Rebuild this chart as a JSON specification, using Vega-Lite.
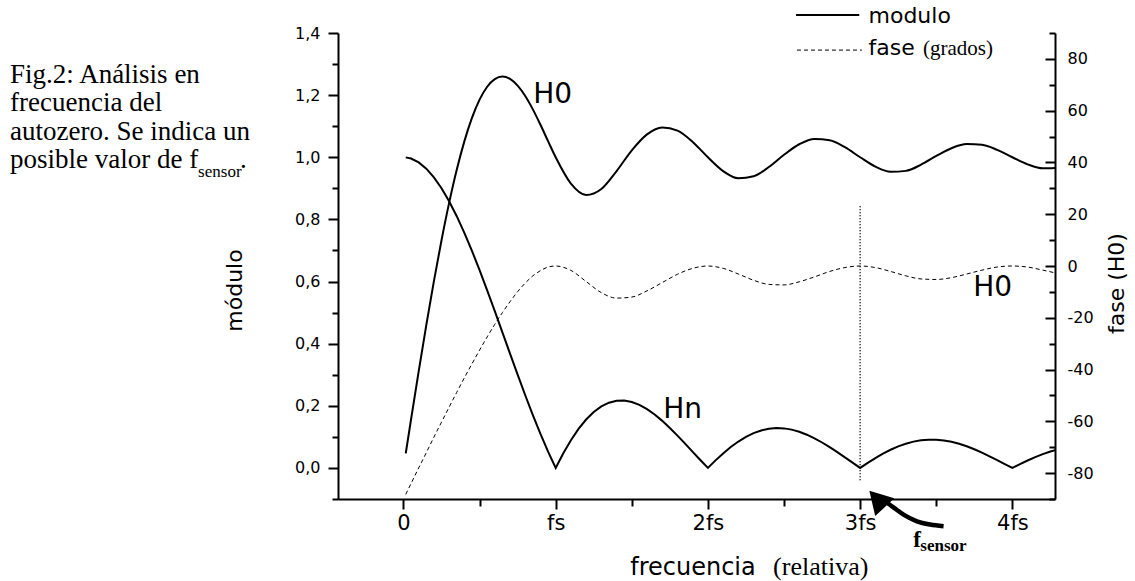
{
  "$schema": "https://vega.github.io/schema/vega-lite/v6.json",
  "width": 717,
  "height": 466,
  "autosize": {"type": "none"},
  "padding": {"left": 338, "top": 33, "right": 80, "bottom": 82},
  "background": "white",
  "config": {
    "view": {"stroke": null},
    "locale": {"number": {"decimal": ",", "thousands": ".", "grouping": [3], "currency": ["", ""], "minus": "-"}},
    "axis": {"grid": false, "domainColor": "black", "tickColor": "black", "labelColor": "black", "titleColor": "black", "domainWidth": 2, "tickWidth": 2, "labelFlush": false, "labelOverlap": false}
  },
  "datasets": {
    "hn": [
      {"f":0.015,"v":0.9996},{"f":0.05,"v":0.9959},{"f":0.1,"v":0.9836},{"f":0.15,"v":0.9634},{"f":0.2,"v":0.9355},{"f":0.25,"v":0.9003},{"f":0.3,"v":0.8584},{"f":0.35,"v":0.8103},{"f":0.4,"v":0.7568},{"f":0.45,"v":0.6987},{"f":0.5,"v":0.6366},{"f":0.55,"v":0.5716},{"f":0.6,"v":0.5046},{"f":0.65,"v":0.4363},{"f":0.7,"v":0.3679},{"f":0.75,"v":0.3001},{"f":0.8,"v":0.2339},{"f":0.85,"v":0.17},{"f":0.9,"v":0.1093},{"f":0.95,"v":0.0524},{"f":1.0,"v":0},
      {"f":1.05,"v":0.0474},{"f":1.1,"v":0.0894},{"f":1.15,"v":0.1257},{"f":1.2,"v":0.1559},{"f":1.25,"v":0.1801},{"f":1.3,"v":0.1981},{"f":1.35,"v":0.2101},{"f":1.4,"v":0.2162},{"f":1.45,"v":0.2168},{"f":1.5,"v":0.2122},{"f":1.55,"v":0.2028},{"f":1.6,"v":0.1892},{"f":1.65,"v":0.1719},{"f":1.7,"v":0.1515},{"f":1.75,"v":0.1286},{"f":1.8,"v":0.1039},{"f":1.85,"v":0.0781},{"f":1.9,"v":0.0518},{"f":1.95,"v":0.0255},{"f":2.0,"v":0},
      {"f":2.05,"v":0.0243},{"f":2.1,"v":0.0468},{"f":2.15,"v":0.0672},{"f":2.2,"v":0.085},{"f":2.25,"v":0.1},{"f":2.3,"v":0.112},{"f":2.35,"v":0.1207},{"f":2.4,"v":0.1261},{"f":2.45,"v":0.1283},{"f":2.5,"v":0.1273},{"f":2.55,"v":0.1233},{"f":2.6,"v":0.1164},{"f":2.65,"v":0.107},{"f":2.7,"v":0.0954},{"f":2.75,"v":0.0819},{"f":2.8,"v":0.0668},{"f":2.85,"v":0.0507},{"f":2.9,"v":0.0339},{"f":2.95,"v":0.0169},{"f":3.0,"v":0},
      {"f":3.05,"v":0.0163},{"f":3.1,"v":0.0317},{"f":3.15,"v":0.0459},{"f":3.2,"v":0.0585},{"f":3.25,"v":0.0693},{"f":3.3,"v":0.078},{"f":3.35,"v":0.0847},{"f":3.4,"v":0.089},{"f":3.45,"v":0.0911},{"f":3.5,"v":0.0909},{"f":3.55,"v":0.0886},{"f":3.6,"v":0.0841},{"f":3.65,"v":0.0777},{"f":3.7,"v":0.0696},{"f":3.75,"v":0.06},{"f":3.8,"v":0.0492},{"f":3.85,"v":0.0375},{"f":3.9,"v":0.0252},{"f":3.95,"v":0.0126},{"f":4.0,"v":0},
      {"f":4.05,"v":0.0123},{"f":4.1,"v":0.024},{"f":4.15,"v":0.0348},{"f":4.2,"v":0.0446},{"f":4.25,"v":0.053},{"f":4.3,"v":0.0599}
    ],
    "h0": [
      {"f":0.015,"m":0.0471,"p":-88.2},{"f":0.05,"m":0.1567,"p":-84.0},{"f":0.1,"m":0.3107,"p":-78.0},{"f":0.15,"m":0.4597,"p":-72.1},{"f":0.2,"m":0.6012,"p":-66.1},{"f":0.25,"m":0.733,"p":-60.3},{"f":0.3,"m":0.8531,"p":-54.5},{"f":0.35,"m":0.9596,"p":-48.8},{"f":0.4,"m":1.0512,"p":-43.2},{"f":0.45,"m":1.1267,"p":-37.8},{"f":0.5,"m":1.1855,"p":-32.5},{"f":0.55,"m":1.227,"p":-27.4},{"f":0.6,"m":1.2516,"p":-22.5},{"f":0.65,"m":1.2596,"p":-18.0},{"f":0.7,"m":1.2521,"p":-13.8},{"f":0.75,"m":1.2306,"p":-9.9},{"f":0.8,"m":1.1971,"p":-6.6},{"f":0.85,"m":1.1541,"p":-3.8},{"f":0.9,"m":1.1045,"p":-1.8},{"f":0.95,"m":1.0518,"p":-0.4},{"f":1.0,"m":1.0,"p":0},
      {"f":1.1,"m":0.9154,"p":-1.7},{"f":1.2,"m":0.8787,"p":-6.0},{"f":1.3,"m":0.898,"p":-10.3},{"f":1.4,"m":0.9556,"p":-12.4},{"f":1.5,"m":1.0223,"p":-12.0},{"f":1.6,"m":1.0737,"p":-9.6},{"f":1.7,"m":1.0959,"p":-6.4},{"f":1.8,"m":1.0858,"p":-3.2},{"f":1.9,"m":1.0494,"p":-0.9},{"f":2.0,"m":1.0,"p":0},
      {"f":2.1,"m":0.9556,"p":-0.9},{"f":2.2,"m":0.9325,"p":-3.1},{"f":2.3,"m":0.9386,"p":-5.5},{"f":2.4,"m":0.9685,"p":-7.1},{"f":2.5,"m":1.0081,"p":-7.3},{"f":2.6,"m":1.0419,"p":-6.1},{"f":2.7,"m":1.0589,"p":-4.2},{"f":2.8,"m":1.0548,"p":-2.1},{"f":2.9,"m":1.0323,"p":-0.6},{"f":3.0,"m":1.0,"p":0},
      {"f":3.1,"m":0.9699,"p":-0.6},{"f":3.2,"m":0.9533,"p":-2.1},{"f":3.3,"m":0.9562,"p":-3.8},{"f":3.4,"m":0.9762,"p":-5.0},{"f":3.5,"m":1.0041,"p":-5.2},{"f":3.6,"m":1.0291,"p":-4.5},{"f":3.7,"m":1.0424,"p":-3.1},{"f":3.8,"m":1.0402,"p":-1.6},{"f":3.9,"m":1.024,"p":-0.4},{"f":4.0,"m":1.0,"p":0},
      {"f":4.1,"m":0.9772,"p":-0.4},{"f":4.2,"m":0.9643,"p":-1.6},{"f":4.3,"m":0.966,"p":-2.9}
    ],
    "txt": [
      {"f":0.852,"v":1.1756,"t":"H0","k":"lab"},
      {"f":1.706,"v":0.1617,"t":"Hn","k":"lab"},
      {"f":3.743,"v":0.554,"t":"H0","k":"lab"},
      {"f":3.055,"v":1.4328,"t":"modulo","k":"leg"},
      {"f":3.055,"v":1.329,"t":"fase","k":"leg"},
      {"f":3.4126,"v":1.329,"t":"(grados)","k":"grados"},
      {"f":1.4895,"v":-0.3431,"t":"frecuencia","k":"xt"},
      {"f":2.428,"v":-0.3431,"t":"(relativa)","k":"rel"},
      {"f":-2.584,"v":1.2399,"t":"Fig.2: Análisis en","k":"cap"},
      {"f":-2.584,"v":1.1489,"t":"frecuencia del","k":"cap"},
      {"f":-2.584,"v":1.0556,"t":"autozero. Se indica un","k":"cap"},
      {"f":-2.584,"v":0.9646,"t":"posible valor de f","k":"cap"},
      {"f":-1.073,"v":0.9646,"t":".","k":"cap"},
      {"f":-1.349,"v":0.9376,"t":"sensor","k":"capsub"},
      {"f":3.349,"v":-0.256,"t":"f","k":"fs"},
      {"f":3.395,"v":-0.2663,"t":"sensor","k":"fssub"}
    ],
    "legm": [{"f":2.579,"f2":2.9941,"v":1.4576}],
    "legp": [{"f":2.585,"f2":3.0118,"p":83.4}],
    "arr": [
      {"f":3.145,"v":-0.1019},{"f":3.209,"v":-0.1235},{"f":3.285,"v":-0.1502},{"f":3.373,"v":-0.1717},{"f":3.46,"v":-0.1823},{"f":3.548,"v":-0.1878}
    ],
    "head": [{"f":3.111,"v":-0.1}],
    "vline": [{"f":3,"v":-0.04,"v2":0.845}]
  },
  "layer": [
    {
      "data": {"name": "hn"},
      "mark": {"type": "line", "color": "black", "strokeWidth": 2, "clip": true},
      "encoding": {
        "x": {"field": "f", "type": "quantitative", "scale": {"domain": [-0.43, 4.28], "nice": false, "zero": false},
          "axis": {
            "orient": "bottom",
            "values": [0, 1, 2, 3, 4],
            "labelExpr": "datum.value == 0 ? '0' : (datum.value == 1 ? 'fs' : datum.value + 'fs')",
            "tickSize": 10,
            "labelFont": "DejaVu Sans", "labelFontSize": 21, "labelPadding": 3, "title": null
          }
        },
        "y": {"field": "v", "type": "quantitative", "scale": {"domain": [-0.1, 1.4], "nice": false, "zero": false},
          "axis": {
            "orient": "left",
            "values": [0, 0.2, 0.4, 0.6, 0.8, 1.0, 1.2, 1.4],
            "format": ".1f",
            "tickSize": 10,
            "labelFont": "DejaVu Sans", "labelFontSize": 16, "labelPadding": 8,
            "title": "módulo", "titleFont": "DejaVu Sans", "titleFontSize": 22, "titleFontWeight": "normal",
            "titleAngle": -90, "titleX": -97, "titleY": 257, "titleAlign": "center", "titleBaseline": "alphabetic"
          }
        }
      }
    },
    {
      "data": {"name": "h0"},
      "mark": {"type": "line", "color": "black", "strokeWidth": 2, "interpolate": "monotone", "clip": true},
      "encoding": {
        "x": {"field": "f", "type": "quantitative", "scale": {"domain": [-0.43, 4.28], "nice": false, "zero": false},
          "axis": {"orient": "bottom", "values": [0.5, 1.5, 2.5, 3.5], "tickSize": 7, "labels": false, "domain": false, "title": null}
        },
        "y": {"field": "m", "type": "quantitative", "scale": {"domain": [-0.1, 1.4], "nice": false, "zero": false},
          "axis": {"orient": "left", "values": [-0.1, 0.1, 0.3, 0.5, 0.7, 0.9, 1.1, 1.3], "tickSize": 6, "labels": false, "domain": false, "title": null}
        }
      }
    },
    {
      "layer": [
        {
          "data": {"name": "vline"},
          "mark": {"type": "rule", "color": "black", "strokeWidth": 1.5, "strokeDash": [1, 2]},
          "encoding": {
            "x": {"field": "f", "type": "quantitative", "scale": {"domain": [-0.43, 4.28], "nice": false, "zero": false}, "axis": null},
            "y": {"field": "v", "type": "quantitative", "scale": {"domain": [-0.1, 1.4], "nice": false, "zero": false}, "axis": null},
            "y2": {"field": "v2"}
          }
        },
        {
          "data": {"name": "legm"},
          "mark": {"type": "rule", "color": "black", "strokeWidth": 2},
          "encoding": {
            "x": {"field": "f", "type": "quantitative", "axis": null},
            "x2": {"field": "f2"},
            "y": {"field": "v", "type": "quantitative", "axis": null}
          }
        },
        {
          "data": {"name": "arr"},
          "mark": {"type": "line", "color": "black", "strokeWidth": 4.5, "interpolate": "monotone", "strokeCap": "butt"},
          "encoding": {
            "x": {"field": "f", "type": "quantitative", "axis": null},
            "y": {"field": "v", "type": "quantitative", "axis": null}
          }
        },
        {
          "data": {"name": "head"},
          "mark": {"type": "point", "shape": "triangle-up", "filled": true, "color": "black", "opacity": 1, "size": 676, "angle": -43},
          "encoding": {
            "x": {"field": "f", "type": "quantitative", "axis": null},
            "y": {"field": "v", "type": "quantitative", "axis": null}
          }
        },
        {
          "data": {"name": "txt"},
          "transform": [{"filter": "datum.k == 'lab'"}],
          "mark": {"type": "text", "font": "DejaVu Sans", "fontSize": 28, "align": "left", "baseline": "alphabetic", "color": "black"},
          "encoding": {"x": {"field": "f", "type": "quantitative", "axis": null}, "y": {"field": "v", "type": "quantitative", "axis": null}, "text": {"field": "t"}}
        },
        {
          "data": {"name": "txt"},
          "transform": [{"filter": "datum.k == 'leg'"}],
          "mark": {"type": "text", "font": "DejaVu Sans", "fontSize": 22, "align": "left", "baseline": "alphabetic", "color": "black"},
          "encoding": {"x": {"field": "f", "type": "quantitative", "axis": null}, "y": {"field": "v", "type": "quantitative", "axis": null}, "text": {"field": "t"}}
        },
        {
          "data": {"name": "txt"},
          "transform": [{"filter": "datum.k == 'grados'"}],
          "mark": {"type": "text", "font": "Liberation Serif", "fontSize": 21, "align": "left", "baseline": "alphabetic", "color": "black"},
          "encoding": {"x": {"field": "f", "type": "quantitative", "axis": null}, "y": {"field": "v", "type": "quantitative", "axis": null}, "text": {"field": "t"}}
        },
        {
          "data": {"name": "txt"},
          "transform": [{"filter": "datum.k == 'xt'"}],
          "mark": {"type": "text", "font": "DejaVu Sans", "fontSize": 24, "align": "left", "baseline": "alphabetic", "color": "black"},
          "encoding": {"x": {"field": "f", "type": "quantitative", "axis": null}, "y": {"field": "v", "type": "quantitative", "axis": null}, "text": {"field": "t"}}
        },
        {
          "data": {"name": "txt"},
          "transform": [{"filter": "datum.k == 'rel'"}],
          "mark": {"type": "text", "font": "Liberation Serif", "fontSize": 26, "align": "left", "baseline": "alphabetic", "color": "black"},
          "encoding": {"x": {"field": "f", "type": "quantitative", "axis": null}, "y": {"field": "v", "type": "quantitative", "axis": null}, "text": {"field": "t"}}
        },
        {
          "data": {"name": "txt"},
          "transform": [{"filter": "datum.k == 'cap'"}],
          "mark": {"type": "text", "font": "Liberation Serif", "fontSize": 27, "align": "left", "baseline": "alphabetic", "color": "black"},
          "encoding": {"x": {"field": "f", "type": "quantitative", "axis": null}, "y": {"field": "v", "type": "quantitative", "axis": null}, "text": {"field": "t"}}
        },
        {
          "data": {"name": "txt"},
          "transform": [{"filter": "datum.k == 'capsub'"}],
          "mark": {"type": "text", "font": "Liberation Serif", "fontSize": 17, "align": "left", "baseline": "alphabetic", "color": "black"},
          "encoding": {"x": {"field": "f", "type": "quantitative", "axis": null}, "y": {"field": "v", "type": "quantitative", "axis": null}, "text": {"field": "t"}}
        },
        {
          "data": {"name": "txt"},
          "transform": [{"filter": "datum.k == 'fs'"}],
          "mark": {"type": "text", "font": "Liberation Serif", "fontSize": 23, "fontWeight": "bold", "align": "left", "baseline": "alphabetic", "color": "black"},
          "encoding": {"x": {"field": "f", "type": "quantitative", "axis": null}, "y": {"field": "v", "type": "quantitative", "axis": null}, "text": {"field": "t"}}
        },
        {
          "data": {"name": "txt"},
          "transform": [{"filter": "datum.k == 'fssub'"}],
          "mark": {"type": "text", "font": "Liberation Serif", "fontSize": 17, "fontWeight": "bold", "align": "left", "baseline": "alphabetic", "color": "black"},
          "encoding": {"x": {"field": "f", "type": "quantitative", "axis": null}, "y": {"field": "v", "type": "quantitative", "axis": null}, "text": {"field": "t"}}
        }
      ]
    },
    {
      "data": {"name": "h0"},
      "mark": {"type": "line", "color": "black", "strokeWidth": 1, "strokeDash": [4, 3], "interpolate": "monotone", "clip": true},
      "encoding": {
        "x": {"field": "f", "type": "quantitative", "scale": {"domain": [-0.43, 4.28], "nice": false, "zero": false}, "axis": null},
        "y": {"field": "p", "type": "quantitative", "scale": {"domain": [-90, 90], "nice": false, "zero": false},
          "axis": {
            "orient": "right",
            "values": [-80, -60, -40, -20, 0, 20, 40, 60, 80],
            "format": "d",
            "tickSize": -10,
            "labelFont": "DejaVu Sans", "labelFontSize": 16, "labelPadding": 22,
            "title": "fase (H0)", "titleFont": "DejaVu Sans", "titleFontSize": 22, "titleFontWeight": "normal",
            "titleAngle": -90, "titleX": 68, "titleY": 250, "titleAlign": "center", "titleBaseline": "alphabetic"
          }
        }
      }
    },
    {
      "data": {"name": "legp"},
      "mark": {"type": "rule", "color": "black", "strokeWidth": 1, "strokeDash": [4, 3]},
      "encoding": {
        "x": {"field": "f", "type": "quantitative", "scale": {"domain": [-0.43, 4.28], "nice": false, "zero": false}, "axis": null},
        "x2": {"field": "f2"},
        "y": {"field": "p", "type": "quantitative", "scale": {"domain": [-90, 90], "nice": false, "zero": false},
          "axis": {"orient": "right", "values": [-90, -70, -50, -30, -10, 10, 30, 50, 70, 90], "tickSize": -6, "labels": false, "domain": false, "title": null}
        }
      }
    }
  ],
  "resolve": {"scale": {"x": "independent", "y": "independent"}}
}
